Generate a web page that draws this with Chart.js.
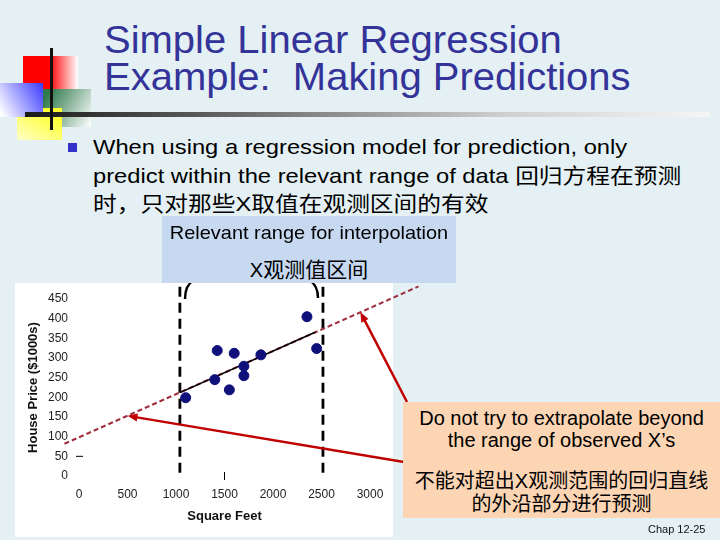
<!DOCTYPE html>
<html lang="zh">
  <head>
    <meta charset="UTF-8" />
    <title>Simple Linear Regression Example: Making Predictions</title>
    <style>
      body {
        margin: 0;
        width: 720px;
        height: 540px;
        position: relative;
        overflow: hidden;
        background: #e4f0f3;
        font-family: "Liberation Sans", Arial, "Noto Sans CJK SC", sans-serif;
      }
      .abs { position: absolute; }
      .cjk { font-family: "Noto Sans CJK SC", sans-serif; }
      #title {
        left: 104px; top: 21px;
        font-size: 39px; line-height: 37px;
        color: #333399; white-space: nowrap;
        transform: scaleX(1.025); transform-origin: left top;
      }
      #bullet {
        left: 93px; top: 133px;
        font-size: 21px; line-height: 27.5px;
        color: #000; white-space: nowrap;
        transform: scaleX(1.13); transform-origin: left top;
      }
      #rangeBox {
        left: 162px; top: 216px; width: 294px; height: 67px;
        background: #c6d9f1; text-align: center; z-index: 3;
      }
      #noteBox {
        left: 403px; top: 402px; width: 317px; height: 116px;
        background: #fcd5b4; text-align: center; z-index: 3;
      }
    </style>
  </head>
  <body>
    <!-- slide logo -->
    <div class="abs" style="left:23px;top:56px;width:55px;height:33px;background:linear-gradient(90deg,#ff0000 0%,#ff0000 48%,#ffffff 100%)"></div>
    <div class="abs" style="left:43px;top:89px;width:48px;height:38px;background:linear-gradient(120deg,#2f7a4c 10%,#ffffff 100%)"></div>
    <div class="abs" style="left:17px;top:108px;width:45px;height:32px;background:linear-gradient(210deg,#ffff30 20%,#ffffc8 100%)"></div>
    <div class="abs" style="left:0px;top:83px;width:43px;height:34px;background:linear-gradient(60deg,#ffffff 5%,#3a3aff 100%)"></div>
    <div class="abs" style="left:25px;top:112px;width:685px;height:5px;background:linear-gradient(90deg,#1a1a1a 0%,#666 30%,#cfcfcf 70%,#f6f6f6 100%)"></div>
    <div class="abs" style="left:50px;top:48px;width:3px;height:82px;background:#111"></div>

    <div id="title" class="abs">Simple Linear Regression<br />Example:&nbsp; Making Predictions</div>

    <div class="abs" style="left:68px;top:143px;width:9px;height:9px;background:#3333cc"></div>
    <div id="bullet" class="abs">When using a regression model for prediction, only<br />predict within the relevant range of data <span class="cjk">回归方程在预测</span><br /><span class="cjk">时，只对那些</span>X<span class="cjk">取值在观测区间的有效</span></div>

    <canvas id="houseChart" class="abs" style="left:0;top:0;z-index:1" width="720" height="540"></canvas>

    <div id="rangeBox" class="abs">
      <div style="height:34px;line-height:34px;font-size:19px;transform:scaleX(1.05)">Relevant range for interpolation</div>
      <div style="height:36px;line-height:36px;font-size:20px">X<span class="cjk" style="font-size:21px">观测值区间</span></div>
    </div>

    <div id="noteBox" class="abs">
      <div style="margin-top:5px;line-height:22px;font-size:20px">Do not try to extrapolate beyond<br />the range of observed X’s</div>
      <div style="margin-top:18px;line-height:22px;font-size:20px"><span class="cjk">不能对超出</span>X<span class="cjk">观测范围的回归直线</span><br /><span class="cjk">的外沿部分进行预测</span></div>
    </div>

    <div class="abs" style="left:648px;top:523px;font-size:11px;color:#111;z-index:3">Chap 12-25</div>

    <script src="https://cdn.jsdelivr.net/npm/chart.js"></script>
    <script>
      // house data (square feet, price in $1000s)
      const sqFt = [1400, 1600, 1700, 1875, 1100, 1550, 2350, 2450, 1425, 1700];
      const price = [245, 312, 279, 308, 199, 219, 405, 324, 319, 255];

      // fitted line inside the observed range
      const fitX = [1040, 2440];
      const fitY = [212, 366];
      // extrapolated part of the line
      const extX = [-150, 3500];
      const extY = [82, 482];
      // bounds of the relevant range
      const rangeX = [1040, 2515];
      const rangeY = [8, 500];
      // where the red arrows point, on the extended line
      const arrowTipX = [2900, 500];
      const arrowTipY = [417, 153];

      const pairs = (xs, ys) => xs.map((v, i) => ({ x: v, y: ys[i] }));

      function drawArrow(ctx, x0, y0, x1, y1) {
        let ang = Math.atan2(y1 - y0, x1 - x0);
        ctx.beginPath();
        ctx.moveTo(x0, y0);
        ctx.lineTo(x1 - 8 * Math.cos(ang), y1 - 8 * Math.sin(ang));
        ctx.stroke();
        ctx.beginPath();
        ctx.moveTo(x1, y1);
        ctx.lineTo(x1 - 10 * Math.cos(ang) + 4 * Math.sin(ang), y1 - 10 * Math.sin(ang) - 4 * Math.cos(ang));
        ctx.lineTo(x1 - 10 * Math.cos(ang) - 4 * Math.sin(ang), y1 - 10 * Math.sin(ang) + 4 * Math.cos(ang));
        ctx.closePath();
        ctx.fill();
      }

      const slideDecor = {
        id: "slideDecor",
        beforeDraw(chart) {
          let ctx = chart.ctx;
          ctx.save();
          ctx.fillStyle = "#ffffff";
          ctx.fillRect(15, 283, 378, 254);
          ctx.restore();
        },
        afterDatasetsDraw(chart) {
          let ctx = chart.ctx;
          let x = chart.scales.x;
          let y = chart.scales.y;
          ctx.save();
          // brace ends peeking below the label box
          ctx.strokeStyle = "#000";
          ctx.lineWidth = 2.5;
          ctx.beginPath();
          ctx.moveTo(185, 299);
          ctx.quadraticCurveTo(185, 285, 194, 280);
          ctx.stroke();
          ctx.beginPath();
          ctx.moveTo(309, 280);
          ctx.quadraticCurveTo(318, 285, 318, 298);
          ctx.stroke();
          // stray tick marks
          ctx.lineWidth = 1;
          ctx.beginPath();
          ctx.moveTo(76, y.getPixelForValue(50));
          ctx.lineTo(83, y.getPixelForValue(50));
          ctx.moveTo(x.getPixelForValue(1500), 472);
          ctx.lineTo(x.getPixelForValue(1500), 480);
          ctx.stroke();
          // arrows from the note box
          ctx.strokeStyle = "#c00000";
          ctx.fillStyle = "#c00000";
          ctx.lineWidth = 2.5;
          drawArrow(ctx, 407, 402, x.getPixelForValue(arrowTipX[0]), y.getPixelForValue(arrowTipY[0]));
          drawArrow(ctx, 404, 462, x.getPixelForValue(arrowTipX[1]), y.getPixelForValue(arrowTipY[1]));
          ctx.restore();
        },
      };

      Chart.defaults.font.family = '"Liberation Sans", Arial, sans-serif';
      Chart.defaults.font.size = 12;
      Chart.defaults.color = "#222";

      let canvas = document.querySelector("#houseChart");
      let chart = new Chart(canvas, {
        type: "scatter",
        data: {
          datasets: [
            {
              label: "houses",
              data: pairs(sqFt, price),
              backgroundColor: "#10107a",
              borderColor: "#10107a",
              pointRadius: 5,
              order: 0,
            },
            {
              label: "fit",
              data: pairs(fitX, fitY),
              showLine: true,
              borderColor: "#000",
              borderWidth: 1.6,
              pointRadius: 0,
              order: 1,
            },
            {
              label: "extrapolation",
              data: pairs(extX, extY),
              showLine: true,
              borderColor: "#a03040",
              borderWidth: 2,
              borderDash: [5, 3],
              pointRadius: 0,
              clip: false,
              order: 2,
            },
            {
              label: "low",
              data: pairs([rangeX[0], rangeX[0]], rangeY),
              showLine: true,
              borderColor: "#000",
              borderWidth: 2.8,
              borderDash: [10, 6],
              pointRadius: 0,
              clip: false,
              order: 3,
            },
            {
              label: "high",
              data: pairs([rangeX[1], rangeX[1]], rangeY),
              showLine: true,
              borderColor: "#000",
              borderWidth: 2.8,
              borderDash: [10, 6],
              pointRadius: 0,
              clip: false,
              order: 3,
            },
          ],
        },
        options: {
          responsive: false,
          animation: false,
          layout: { padding: { left: 15, right: 350, top: 299, bottom: 14 } },
          plugins: { legend: { display: false }, tooltip: { enabled: false } },
          scales: {
            x: {
              min: 0,
              max: 3000,
              ticks: { stepSize: 500, padding: 11, maxRotation: 0, callback: (v) => String(v) },
              grid: { display: false, drawTicks: false },
              border: { display: false },
              title: {
                display: true,
                text: "Square Feet",
                font: { size: 13, weight: "bold" },
                color: "#111",
                padding: { top: 0, bottom: 2 },
              },
              afterFit(s) {
                s.height = 50;
              },
            },
            y: {
              min: 0,
              max: 450,
              ticks: { stepSize: 50, padding: 11, callback: (v) => String(v) },
              grid: { display: false, drawTicks: false },
              border: { display: false },
              title: {
                display: true,
                text: "House Price ($1000s)",
                font: { size: 13, weight: "bold" },
                color: "#111",
                padding: { top: 11, bottom: 0 },
              },
              afterFit(s) {
                s.width = 64;
              },
            },
          },
        },
        plugins: [slideDecor],
      });
    </script>
  </body>
</html>
